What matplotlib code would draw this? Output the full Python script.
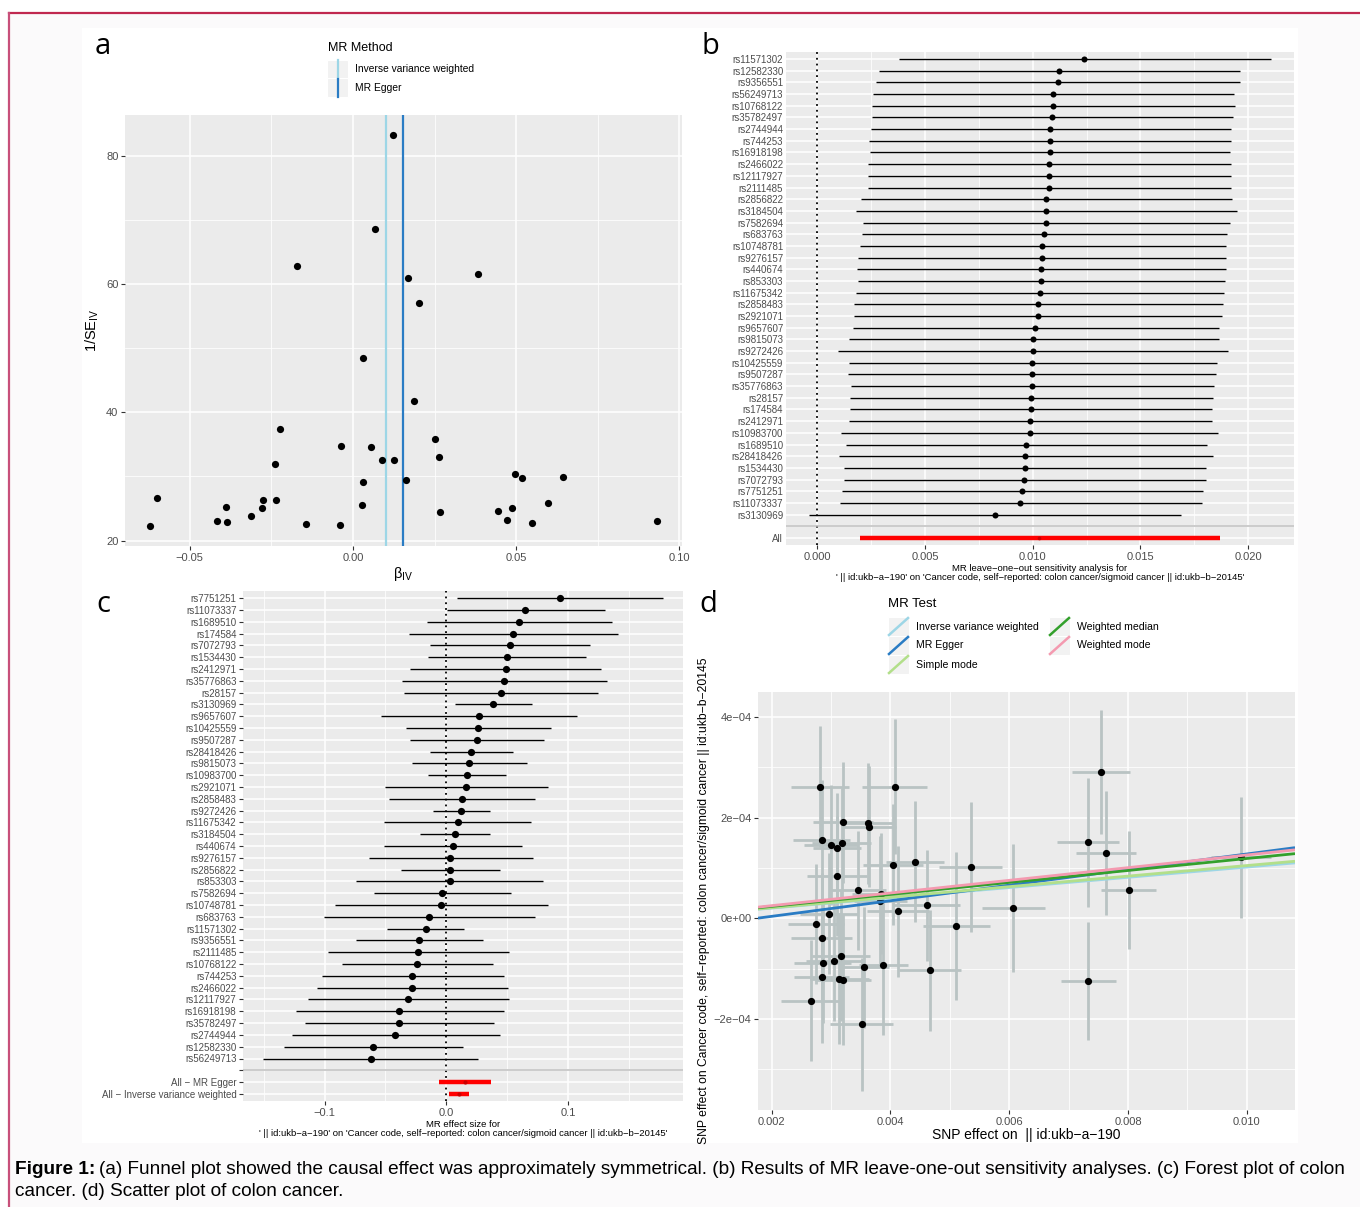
import matplotlib
matplotlib.use('Agg')
import matplotlib.pyplot as plt
import numpy as np
from matplotlib.patches import Rectangle
from matplotlib.lines import Line2D

plt.rcParams['font.family'] = ['Liberation Sans', 'DejaVu Sans']

# ---- data: (a) funnel plot ----
funnel_beta = [0.01226, 0.0068, -0.0170, 0.0168, 0.0382, 0.0204, 0.0031, 0.0187, -0.0224, 0.0252,
               -0.0035, 0.0056, 0.0263, 0.0090, 0.0125, -0.0239, 0.0498, 0.0519, 0.0642, 0.0032,
               0.0162, -0.0600, -0.0276, -0.0235, 0.0598, -0.0388, -0.0277, 0.0027, 0.0444, 0.0487,
               0.0268, -0.0312, -0.0417, -0.0386, 0.0471, 0.0548, 0.0931, -0.0143, -0.0040, -0.0621]
funnel_inv_se = [83.3, 68.6, 62.8, 61.0, 61.5, 57.0, 48.5, 41.7, 37.4, 35.8,
                 34.8, 34.6, 33.0, 32.6, 32.6, 31.9, 30.3, 29.8, 29.9, 29.1,
                 29.4, 26.6, 26.3, 26.4, 25.9, 25.2, 25.0, 25.5, 24.6, 25.1,
                 24.4, 23.8, 23.0, 22.9, 23.2, 22.8, 23.1, 22.6, 22.5, 22.2]
funnel_ivw = 0.0101
funnel_egger = 0.0152

# ---- data: (b) leave-one-out ----
loo_snps = ['rs11571302', 'rs12582330', 'rs9356551', 'rs56249713', 'rs10768122', 'rs35782497',
            'rs2744944', 'rs744253', 'rs16918198', 'rs2466022', 'rs12117927', 'rs2111485',
            'rs2856822', 'rs3184504', 'rs7582694', 'rs683763', 'rs10748781', 'rs9276157',
            'rs440674', 'rs853303', 'rs11675342', 'rs2858483', 'rs2921071', 'rs9657607',
            'rs9815073', 'rs9272426', 'rs10425559', 'rs9507287', 'rs35776863', 'rs28157',
            'rs174584', 'rs2412971', 'rs10983700', 'rs1689510', 'rs28418426', 'rs1534430',
            'rs7072793', 'rs7751251', 'rs11073337', 'rs3130969']
loo_b = [0.01240, 0.01123, 0.01115, 0.01095, 0.01093, 0.01087, 0.01081, 0.01079, 0.01078, 0.01075,
         0.01073, 0.01073, 0.01062, 0.01062, 0.01062, 0.01053, 0.01044, 0.01042, 0.01040, 0.01039,
         0.01033, 0.01025, 0.01022, 0.01012, 0.01003, 0.01000, 0.00998, 0.00997, 0.00995, 0.00994,
         0.00992, 0.00988, 0.00986, 0.00969, 0.00966, 0.00963, 0.00961, 0.00950, 0.00942, 0.00826]
loo_lo = [0.00379, 0.00286, 0.00273, 0.00259, 0.00255, 0.00252, 0.00247, 0.00241, 0.00244, 0.00234,
          0.00234, 0.00233, 0.00202, 0.00179, 0.00210, 0.00208, 0.00196, 0.00189, 0.00186, 0.00189,
          0.00179, 0.00172, 0.00169, 0.00165, 0.00148, 0.00096, 0.00148, 0.00143, 0.00154, 0.00151,
          0.00151, 0.00148, 0.00109, 0.00134, 0.00099, 0.00124, 0.00124, 0.00113, 0.00104, -0.00039]
loo_hi = [0.02106, 0.01964, 0.01963, 0.01936, 0.01939, 0.01930, 0.01922, 0.01922, 0.01918, 0.01919,
          0.01919, 0.01919, 0.01927, 0.01949, 0.01918, 0.01904, 0.01897, 0.01899, 0.01899, 0.01893,
          0.01890, 0.01885, 0.01877, 0.01865, 0.01865, 0.01908, 0.01854, 0.01851, 0.01840, 0.01838,
          0.01832, 0.01832, 0.01858, 0.01810, 0.01837, 0.01806, 0.01804, 0.01790, 0.01784, 0.01689]
loo_all = (0.01031, 0.00197, 0.01868)

# ---- data: (c) single SNP forest ----
forest_snps = ['rs7751251', 'rs11073337', 'rs1689510', 'rs174584', 'rs7072793', 'rs1534430',
               'rs2412971', 'rs35776863', 'rs28157', 'rs3130969', 'rs9657607', 'rs10425559',
               'rs9507287', 'rs28418426', 'rs9815073', 'rs10983700', 'rs2921071', 'rs2858483',
               'rs9272426', 'rs11675342', 'rs3184504', 'rs440674', 'rs9276157', 'rs2856822',
               'rs853303', 'rs7582694', 'rs10748781', 'rs683763', 'rs11571302', 'rs9356551',
               'rs2111485', 'rs10768122', 'rs744253', 'rs2466022', 'rs12117927', 'rs16918198',
               'rs35782497', 'rs2744944', 'rs12582330', 'rs56249713']
forest_b = [0.0934, 0.0644, 0.0600, 0.0551, 0.0521, 0.0496, 0.0488, 0.0474, 0.0447, 0.0384,
            0.0266, 0.0263, 0.0252, 0.0205, 0.0189, 0.0170, 0.0164, 0.0126, 0.0123, 0.0093,
            0.0071, 0.0058, 0.0033, 0.0030, 0.0030, -0.0033, -0.0041, -0.0142, -0.0170, -0.0222,
            -0.0233, -0.0238, -0.0279, -0.0279, -0.0312, -0.0386, -0.0386, -0.0419, -0.0603, -0.0622]
forest_lo = [0.0088, 0.0005, -0.0156, -0.0310, -0.0137, -0.0148, -0.0296, -0.0367, -0.0348, 0.0068,
             -0.0534, -0.0329, -0.0296, -0.0137, -0.0285, -0.0151, -0.0504, -0.0474, -0.0110, -0.0510,
             -0.0219, -0.0510, -0.0638, -0.0370, -0.0740, -0.0597, -0.0915, -0.1008, -0.0485, -0.0745,
             -0.0975, -0.0855, -0.1022, -0.1060, -0.1134, -0.1238, -0.1162, -0.1271, -0.1337, -0.1507]
forest_hi = [0.1781, 0.1301, 0.1359, 0.1411, 0.1181, 0.1148, 0.1271, 0.1321, 0.1244, 0.0704,
             0.1071, 0.0863, 0.0803, 0.0551, 0.0663, 0.0493, 0.0836, 0.0726, 0.0362, 0.0696,
             0.0356, 0.0625, 0.0712, 0.0438, 0.0797, 0.0534, 0.0836, 0.0726, 0.0145, 0.0304,
             0.0512, 0.0381, 0.0471, 0.0507, 0.0512, 0.0471, 0.0389, 0.0438, 0.0134, 0.0263]
forest_all_labels = ['All − MR Egger', 'All − Inverse variance weighted']
forest_all_b = [0.0156, 0.0101]
forest_all_lo = [-0.0060, 0.0019]
forest_all_hi = [0.0370, 0.0184]

# ---- data: (d) scatter plot ----
snp_bx = [0.00281, 0.00407, 0.00755, 0.00320, 0.00362, 0.00364, 0.00284, 0.00300, 0.00318, 0.00310,
          0.00733, 0.00763, 0.00441, 0.00404, 0.00535, 0.00310, 0.00346, 0.00801, 0.00384, 0.00383,
          0.00461, 0.00607, 0.00413, 0.00297, 0.00275, 0.00511, 0.00284, 0.00317, 0.00305, 0.00286,
          0.00388, 0.00356, 0.00466, 0.00284, 0.00314, 0.00320, 0.00733, 0.00266, 0.00352, 0.00990]
snp_by = [2.62, 2.62, 2.91, 1.91, 1.89, 1.82, 1.56, 1.46, 1.50, 1.39,
          1.51, 1.30, 1.13, 1.07, 1.02, 0.84, 0.56, 0.56, 0.49, 0.34,
          0.26, 0.21, 0.14, 0.09, -0.11, -0.16, -0.39, -0.74, -0.84, -0.88,
          -0.92, -0.97, -1.03, -1.17, -1.20, -1.22, -1.24, -1.64, -2.11, 1.21]   # x 1e-4
snp_bx_se = [0.00049, 0.00055, 0.00049, 0.00050, 0.00046, 0.00046, 0.00048, 0.00045, 0.00050, 0.00040,
             0.00052, 0.00050, 0.00049, 0.00050, 0.00053, 0.00051, 0.00046, 0.00046, 0.00049, 0.00045,
             0.00056, 0.00053, 0.00052, 0.00049, 0.00047, 0.00057, 0.00051, 0.00049, 0.00047, 0.00048,
             0.00041, 0.00042, 0.00052, 0.00047, 0.00050, 0.00047, 0.00046, 0.00050, 0.00053, 0.00050]
snp_by_se = [1.20, 1.34, 1.24, 1.20, 1.20, 1.20, 1.20, 1.20, 1.10, 1.10,
             1.29, 1.24, 1.21, 1.20, 1.29, 1.20, 1.18, 1.17, 1.20, 1.30,
             1.10, 1.27, 1.30, 1.20, 1.20, 1.47, 1.30, 1.30, 1.20, 1.20,
             1.40, 1.20, 1.20, 1.30, 1.30, 1.30, 1.17, 1.20, 1.32, 1.21]  # x 1e-4
mr_methods = ['Inverse variance weighted', 'MR Egger', 'Simple mode', 'Weighted median', 'Weighted mode']
mr_slope = [0.0102, 0.0155, 0.0105, 0.0119, 0.0126]
mr_intercept = [0.0, -2.7e-5, 0.0, 0.0, 0.0]
mr_colors = ['#9dd6e6', '#2a7cc4', '#b2df8a', '#33a02c', '#f49ab0']

# ---- figure ----
W, H = 1360, 1207
fig = plt.figure(figsize=(W / 100, H / 100), dpi=100)
fig.patch.set_facecolor('white')


def fx(x):
    return x / W


def fy(y):
    return 1 - y / H


def axes_px(x0, y0, x1, y1):
    return fig.add_axes([fx(x0), fy(y1), (x1 - x0) / W, (y1 - y0) / H])


def gg_theme(ax, xmaj, xmin, xlabels):
    ax.set_facecolor('#ebebeb')
    for s in ax.spines.values():
        s.set_visible(False)
    ax.set_xticks(xmaj)
    ax.set_xticklabels(xlabels)
    ax.set_xticks(xmin, minor=True)
    ax.grid(which='major', color='white', lw=1.1)
    ax.grid(which='minor', color='white', lw=0.55)
    ax.tick_params(which='minor', length=0)
    ax.tick_params(which='major', length=2.7, width=0.8, color='#333333',
                   labelcolor='#4d4d4d', labelsize=8, pad=2)
    ax.set_axisbelow(True)


# page background, white figure area and border
fig.add_artist(Rectangle((fx(9), 0), 1 - fx(9), fy(13), transform=fig.transFigure,
                         facecolor='#fbfafb', edgecolor='none', zorder=-10))
fig.add_artist(Rectangle((fx(82), fy(1143)), (1298 - 82) / W, (1143 - 28) / H,
                         transform=fig.transFigure, facecolor='white', edgecolor='none', zorder=-9))
fig.add_artist(Line2D([fx(9), 1], [fy(13), fy(13)], transform=fig.transFigure, color='#c0284f', lw=1.6))
fig.add_artist(Line2D([fx(9), fx(9)], [fy(13), 0], transform=fig.transFigure, color='#c8507a', lw=1.6))


def key_box(x0, y0, x1, y1):
    fig.add_artist(Rectangle((fx(x0), fy(y1)), (x1 - x0) / W, (y1 - y0) / H, transform=fig.transFigure,
                             facecolor='#f2f2f2', edgecolor='white', lw=0.8))


# ---------------- (a) funnel plot ----------------
ax = axes_px(125, 115, 682, 546)
gg_theme(ax, [-0.05, 0.0, 0.05, 0.10], [-0.025, 0.025, 0.075], ['−0.05', '0.00', '0.05', '0.10'])
ax.set_yticks([20, 40, 60, 80])
ax.set_yticks([30, 50, 70], minor=True)
ax.scatter(funnel_beta, funnel_inv_se, s=27, color='black', zorder=3, linewidths=0)
ax.axvline(funnel_ivw, color=mr_colors[0], lw=1.6, zorder=2)
ax.axvline(funnel_egger, color=mr_colors[1], lw=1.6, zorder=2)
ax.set_xlim(-0.0698, 0.1008)
ax.set_ylim(19.15, 86.35)
ax.set_ylabel('1/SE$_{\\mathregular{IV}}$', fontsize=10.5, labelpad=4)
ax.set_xlabel('β$_{\\mathregular{IV}}$', fontsize=10.5, labelpad=2)

fig.text(fx(328), fy(48), 'MR Method', fontsize=9, va='center')
for i, (lab, col) in enumerate(zip(mr_methods[:2], mr_colors[:2])):
    y0 = 60 + i * 18.5
    key_box(327, y0, 348, y0 + 18.5)
    fig.add_artist(Line2D([fx(337.5), fx(337.5)], [fy(y0 + 18.5), fy(y0)], transform=fig.transFigure,
                          color=col, lw=1.6))
    fig.text(fx(355), fy(y0 + 9.5), lab, fontsize=7.4, va='center')

# ---------------- (b) leave-one-out ----------------
ax = axes_px(786, 52, 1294, 545)
gg_theme(ax, [0, 0.005, 0.010, 0.015, 0.020], [0.0025, 0.0075, 0.0125, 0.0175],
         ['0.000', '0.005', '0.010', '0.015', '0.020'])
n = len(loo_snps)
pos = np.arange(n + 2, 2, -1)
ax.set_yticks(list(pos) + [2, 1])
ax.set_yticklabels(loo_snps + ['', 'All'])
ax.tick_params(axis='y', length=0, labelsize=7.0)
ax.hlines(pos, loo_lo, loo_hi, color='black', lw=1.0, zorder=3)
ax.scatter(loo_b, pos, s=19, color='black', zorder=4, linewidths=0)
ax.hlines(1, loo_all[1], loo_all[2], color='red', lw=3.2, zorder=3)
ax.scatter([loo_all[0]], [1], s=7, color='#cc0000', zorder=4, linewidths=0)
ax.axvline(0, color='black', ls=(0, (1, 2.2)), lw=1.3, zorder=2)
ax.axhline(2, color='#bebebe', lw=1.1, zorder=2)
ax.set_xlim(-0.00146, 0.02213)
ax.set_ylim(0.4, n + 2.6)
ax.set_xlabel("MR leave−one−out sensitivity analysis for\n' || id:ukb−a−190' on 'Cancer code, "
              "self−reported: colon cancer/sigmoid cancer || id:ukb−b−20145'",
              fontsize=6.8, labelpad=2, linespacing=1.0)

# ---------------- (c) forest plot ----------------
ax = axes_px(243, 591, 683, 1101)
gg_theme(ax, [-0.1, 0.0, 0.1], [-0.15, -0.05, 0.05, 0.15], ['−0.1', '0.0', '0.1'])
n = len(forest_snps)
pos = np.arange(n + 3, 3, -1)
ax.set_yticks(list(pos) + [3, 2, 1])
ax.set_yticklabels(forest_snps + [''] + forest_all_labels)
ax.tick_params(axis='y', labelsize=7.0)
ax.hlines(pos, forest_lo, forest_hi, color='black', lw=1.0, zorder=3)
ax.scatter(forest_b, pos, s=27, color='black', zorder=4, linewidths=0)
ax.hlines([2, 1], forest_all_lo, forest_all_hi, color='red', lw=3.2, zorder=3)
ax.scatter(forest_all_b, [2, 1], s=9, color='#cc0000', zorder=4, linewidths=0)
ax.axvline(0, color='black', ls=(0, (1, 2.2)), lw=1.3, zorder=2)
ax.axhline(3, color='#bebebe', lw=1.1, zorder=2)
ax.set_xlim(-0.167, 0.1945)
ax.set_ylim(0.4, n + 3.6)
ax.set_xlabel("MR effect size for\n' || id:ukb−a−190' on 'Cancer code, "
              "self−reported: colon cancer/sigmoid cancer || id:ukb−b−20145'",
              fontsize=6.8, labelpad=2, linespacing=1.0)

# ---------------- (d) scatter plot ----------------
ax = axes_px(758, 692, 1295, 1110)
gg_theme(ax, [0.002, 0.004, 0.006, 0.008, 0.010], [0.003, 0.005, 0.007, 0.009],
         ['0.002', '0.004', '0.006', '0.008', '0.010'])
ax.set_yticks([-2e-4, 0, 2e-4, 4e-4])
ax.set_yticklabels(['−2e−04', '0e+00', '2e−04', '4e−04'])
ax.set_yticks([-3e-4, -1e-4, 1e-4, 3e-4], minor=True)
by = np.array(snp_by) * 1e-4
by_se = np.array(snp_by_se) * 1e-4
ax.errorbar(snp_bx, by, yerr=by_se, fmt='none', ecolor='#b9c3c3', elinewidth=2, zorder=2)
ax.errorbar(snp_bx, by, xerr=snp_bx_se, fmt='none', ecolor='#b9c3c3', elinewidth=2, zorder=2)
ax.scatter(snp_bx, by, s=27, color='black', zorder=3, linewidths=0)
xl = np.array([0.00177, 0.01081])
for b, a, col in zip(mr_slope, mr_intercept, mr_colors):
    ax.plot(xl, a + b * xl, color=col, lw=2, zorder=4, solid_capstyle='butt')
ax.set_xlim(xl)
ax.set_ylim(-3.81e-4, 4.5e-4)
ax.set_xlabel('SNP effect on  || id:ukb−a−190', fontsize=10, labelpad=1)
ax.set_ylabel('SNP effect on Cancer code, self−reported: colon cancer/sigmoid cancer || id:ukb−b−20145',
              fontsize=8.75, labelpad=3)

fig.text(fx(888), fy(604), 'MR Test', fontsize=9.5, va='center')
key_x = [888, 888, 888, 1049, 1049]
key_y = [617, 636, 655, 617, 636]
for lab, col, kx, ky in zip(mr_methods, mr_colors, key_x, key_y):
    key_box(kx, ky, kx + 21, ky + 19)
    fig.add_artist(Line2D([fx(kx + 1), fx(kx + 20)], [fy(ky + 18), fy(ky + 1)], transform=fig.transFigure,
                          color=col, lw=1.8))
    fig.text(fx(kx + 28), fy(ky + 9.5), lab, fontsize=7.6, va='center')

# panel letters
for letter, (px, py) in zip('abcd', [(103, 46), (710, 46), (103, 604), (708, 604)]):
    fig.text(fx(px), fy(py), letter, fontsize=21, family=['Open Sans', 'DejaVu Sans'],
             ha='center', va='center')

# caption
renderer = fig.canvas.get_renderer()
cap_size = 13.65
t1 = fig.text(fx(15), fy(1169), 'Figure 1:', fontsize=cap_size, fontweight='bold', va='center')
w1 = t1.get_window_extent(renderer).width
fig.text(fx(15 + w1 + 4), fy(1169),
         '(a) Funnel plot showed the causal effect was approximately symmetrical. (b) Results of MR '
         'leave-one-out sensitivity analyses. (c) Forest plot of colon', fontsize=cap_size, va='center')
fig.text(fx(15), fy(1191), 'cancer. (d) Scatter plot of colon cancer.', fontsize=cap_size, va='center')

fig.savefig('out.png', dpi=100)
